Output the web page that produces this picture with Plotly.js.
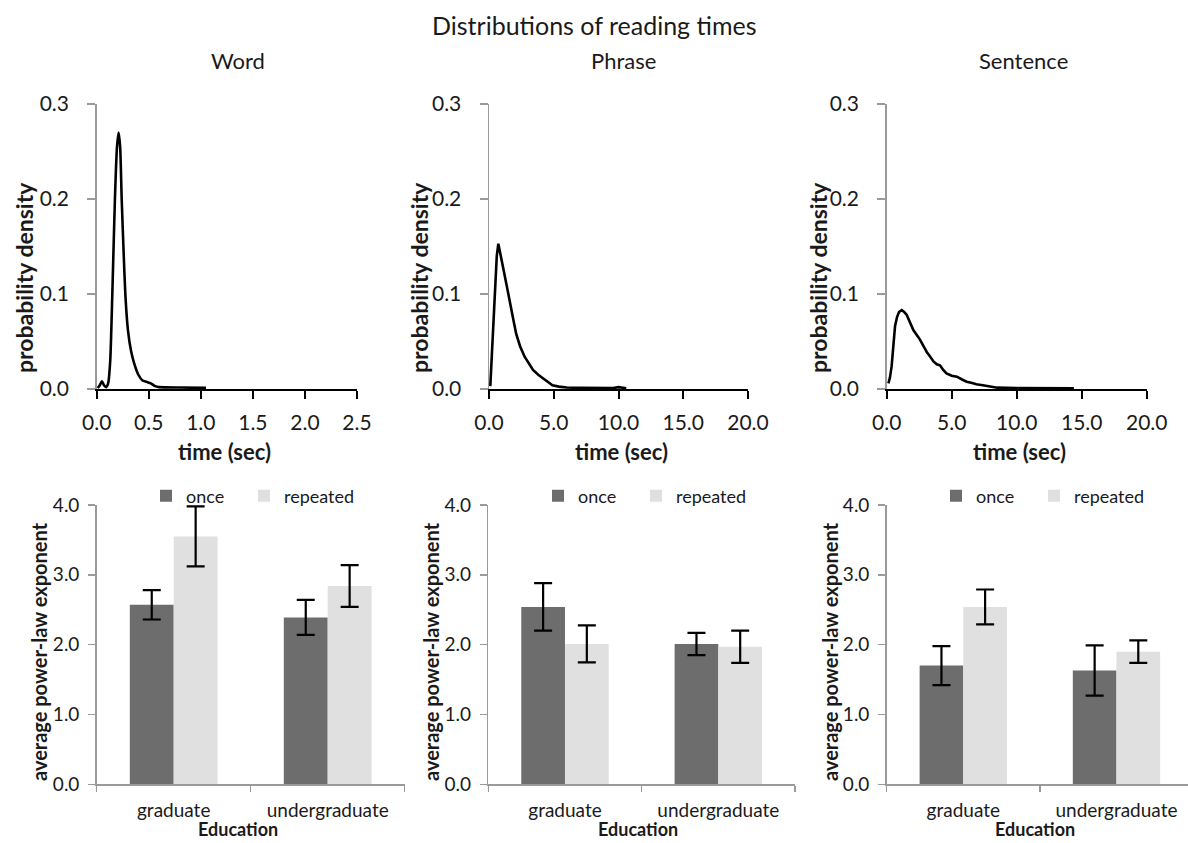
<!DOCTYPE html>
<html>
<head>
<meta charset="utf-8">
<script src="https://cdn.plot.ly/plotly-3.0.1.min.js"></script>
<style>html,body{margin:0;padding:0;background:#fff;}#chart{width:1188px;height:843px;}</style>
</head>
<body>
<div id="chart"></div>
<script>
// ---- Data ----
const wordTime = [0.01, 0.03, 0.05, 0.07, 0.09, 0.11, 0.13, 0.15, 0.175, 0.195, 0.21, 0.225, 0.24, 0.26, 0.275, 0.3, 0.33, 0.36, 0.4, 0.44, 0.48, 0.52, 0.56, 0.6, 0.8, 1.05];
const wordDensity = [0.001, 0.004, 0.008, 0.004, 0.002, 0.006, 0.03, 0.10, 0.20, 0.255, 0.27, 0.255, 0.20, 0.14, 0.10, 0.062, 0.04, 0.027, 0.015, 0.009, 0.0075, 0.006, 0.003, 0.002, 0.0015, 0.0012];

const phraseTime = [0.1, 0.25, 0.44, 0.6, 0.72, 0.9, 1.1, 1.35, 1.6, 1.85, 2.1, 2.4, 2.75, 3.1, 3.4, 3.8, 4.2, 4.6, 4.9, 5.4, 6.0, 7.0, 8.0, 9.0, 9.6, 10.0, 10.2, 10.6];
const phraseDensity = [0.003, 0.04, 0.094, 0.14, 0.153, 0.142, 0.127, 0.11, 0.094, 0.075, 0.058, 0.045, 0.034, 0.026, 0.02, 0.015, 0.011, 0.007, 0.004, 0.0025, 0.0015, 0.0012, 0.001, 0.001, 0.001, 0.002, 0.0015, 0.0008];

const sentenceTime = [0.13, 0.25, 0.38, 0.5, 0.64, 0.8, 0.95, 1.15, 1.35, 1.54, 1.8, 2.05, 2.3, 2.56, 2.8, 3.08, 3.35, 3.6, 3.85, 4.1, 4.35, 4.6, 5.0, 5.4, 5.8, 6.15, 6.5, 6.9, 7.4, 7.95, 8.5, 10, 12, 14.4];
const sentenceDensity = [0.006, 0.012, 0.024, 0.045, 0.066, 0.076, 0.081, 0.083, 0.081, 0.078, 0.07, 0.062, 0.057, 0.052, 0.046, 0.039, 0.034, 0.029, 0.026, 0.025, 0.02, 0.0165, 0.014, 0.013, 0.01, 0.0077, 0.0065, 0.005, 0.004, 0.0025, 0.0014, 0.001, 0.0008, 0.0007];

const educationLevels = ['graduate', 'undergraduate'];
const wordOnce = [2.57, 2.39];
const wordOnceErr = [0.21, 0.25];
const wordRepeated = [3.55, 2.84];
const wordRepeatedErr = [0.43, 0.30];
const phraseOnce = [2.54, 2.01];
const phraseOnceErr = [0.34, 0.16];
const phraseRepeated = [2.01, 1.97];
const phraseRepeatedErr = [0.265, 0.23];
const sentenceOnce = [1.70, 1.63];
const sentenceOnceErr = [0.28, 0.36];
const sentenceRepeated = [2.54, 1.90];
const sentenceRepeatedErr = [0.25, 0.16];

const seriesNames = ['once', 'repeated'];
const panelTitles = ['Word', 'Phrase', 'Sentence'];

// ---- Layout helpers ----
const W = 1188, H = 843;
const px = x => x / W;
const py = y => 1 - y / H;
const FONT = 'Lato, "Open Sans", sans-serif';
const TXT = '#1a1a1a';
const DARK = '#6d6d6d', LIGHT = '#e0e0e0', AXG = '#9a9a9a';

const topX = [[96.7, 357], [489, 748], [886.7, 1146.7]];
const botX = [[96.7, 404.7], [488.3, 795], [886.7, 1188]];
const topY = [py(389), py(104)];
const botY = [py(784.3), py(505)];
const topRanges = [[0, 2.5], [0, 20], [0, 20]];
const topDtick = [0.5, 5, 5];
const botRanges = [[-0.5, 1.5], [-0.5, 1.5], [-0.5, 1.467]];
// legend swatch centres (px) for once / repeated in each bottom panel
const legendPos = [[165, 263], [557, 655], [955, 1053]];

const curves = [[wordTime, wordDensity], [phraseTime, phraseDensity], [sentenceTime, sentenceDensity]];
const onceVals = [[wordOnce, wordOnceErr], [phraseOnce, phraseOnceErr], [sentenceOnce, sentenceOnceErr]];
const repVals = [[wordRepeated, wordRepeatedErr], [phraseRepeated, phraseRepeatedErr], [sentenceRepeated, sentenceRepeatedErr]];

const data = [];
const layout = {
  width: W, height: H,
  margin: {l: 0, r: 0, t: 0, b: 0},
  paper_bgcolor: '#fff', plot_bgcolor: 'rgba(0,0,0,0)',
  font: {family: FONT, color: TXT},
  bargap: 0.43, bargroupgap: 0,
  barmode: 'group',
  annotations: [],
  showlegend: true
};

let legendCount = 0;
function newLegend(cx) {
  legendCount++;
  const key = legendCount === 1 ? 'legend' : 'legend' + legendCount;
  layout[key] = {
    orientation: 'h', x: px(cx - 19), xanchor: 'left', y: py(496), yanchor: 'middle',
    font: {size: 18, family: FONT, color: TXT}, bgcolor: 'rgba(0,0,0,0)', borderwidth: 0
  };
  return key;
}

for (let i = 0; i < 3; i++) {
  const tn = i + 1;
  const bn = i + 4;
  const txa = 'x' + tn, tya = 'y' + tn, bxa = 'x' + bn, bya = 'y' + bn;

  data.push({
    type: 'scatter', mode: 'lines', x: curves[i][0], y: curves[i][1],
    xaxis: txa, yaxis: tya, showlegend: false,
    line: {color: '#000', width: 2.6, shape: i === 0 ? 'spline' : 'linear', smoothing: 0.6},
    hoverinfo: 'skip'
  });

  layout['xaxis' + tn] = {
    domain: [px(topX[i][0]), px(topX[i][1])], anchor: tya,
    range: topRanges[i], dtick: topDtick[i], tick0: 0, tickformat: '.1f',
    showline: true, linecolor: '#000', linewidth: 2,
    ticks: 'outside', ticklen: 8, tickwidth: 2, tickcolor: '#000',
    showgrid: false, zeroline: false, ticklabelstandoff: 6,
    tickfont: {size: 21, family: FONT, color: TXT}
  };
  layout['yaxis' + tn] = {
    domain: topY, anchor: txa,
    range: [0, 0.3], dtick: 0.1, tickformat: '.1f',
    showline: true, linecolor: AXG, linewidth: 1.5,
    ticks: 'outside', ticklen: 8, tickwidth: 1.5, tickcolor: AXG,
    showgrid: false, zeroline: false, ticklabelstandoff: 14,
    tickfont: {size: 21, family: FONT, color: TXT}
  };

  data.push({
    type: 'bar', name: seriesNames[0], x: educationLevels, y: onceVals[i][0],
    xaxis: bxa, yaxis: bya, marker: {color: DARK}, legend: newLegend(legendPos[i][0]),
    error_y: {type: 'data', array: onceVals[i][1], visible: true, color: '#000', thickness: 2.2, width: 9}
  });
  data.push({
    type: 'bar', name: seriesNames[1], x: educationLevels, y: repVals[i][0],
    xaxis: bxa, yaxis: bya, marker: {color: LIGHT}, legend: newLegend(legendPos[i][1]),
    error_y: {type: 'data', array: repVals[i][1], visible: true, color: '#000', thickness: 2.2, width: 9}
  });

  layout['xaxis' + bn] = {
    domain: [px(botX[i][0]), px(botX[i][1])], anchor: bya,
    type: 'category', range: botRanges[i],
    showline: true, linecolor: AXG, linewidth: 1.5,
    ticks: 'outside', tickson: 'boundaries', ticklen: 6, tickwidth: 1.5, tickcolor: AXG,
    showgrid: false, zeroline: false, ticklabelstandoff: 8,
    tickfont: {size: 19, family: FONT, color: TXT}
  };
  layout['yaxis' + bn] = {
    domain: botY, anchor: bxa,
    range: [0, 4], dtick: 1, tickformat: '.1f',
    showline: true, linecolor: AXG, linewidth: 1.5,
    ticks: 'outside', ticklen: 7, tickwidth: 1.5, tickcolor: AXG,
    showgrid: false, zeroline: false, ticklabelstandoff: 5,
    tickfont: {size: 19, family: FONT, color: TXT}
  };
}

// ---- Text annotations ----
const A = layout.annotations;
function note(text, x, y, size, angle, yanchor) {
  A.push({text: text, x: px(x), y: py(y), xref: 'paper', yref: 'paper', xanchor: 'center', yanchor: yanchor || 'middle',
          showarrow: false, textangle: angle || 0, font: {size: size, family: FONT, color: TXT}});
}
note('Distributions of reading times', 594, 25, 25);
const subX = [238, 623, 1023];
const yTitleTopX = [24, 419, 818];
const xTitleTopX = [224, 621, 1019];
const yTitleBotX = [39, 431, 830];
const xTitleBotX = [238, 638, 1035];
for (let i = 0; i < 3; i++) {
  note(panelTitles[i], subX[i], 61, 22);
  note('<b>probability density</b>', yTitleTopX[i], 278, 23, -90);
  note('<b>time (sec)</b>', xTitleTopX[i], 451, 22);
  note('<b>average power-law exponent</b>', yTitleBotX[i], 652, 20, -90);
  note('<b>Education</b>', xTitleBotX[i], 842, 18, 0, 'bottom');
}

Plotly.newPlot('chart', data, layout, {staticPlot: true, displayModeBar: false});
</script>
</body>
</html>
